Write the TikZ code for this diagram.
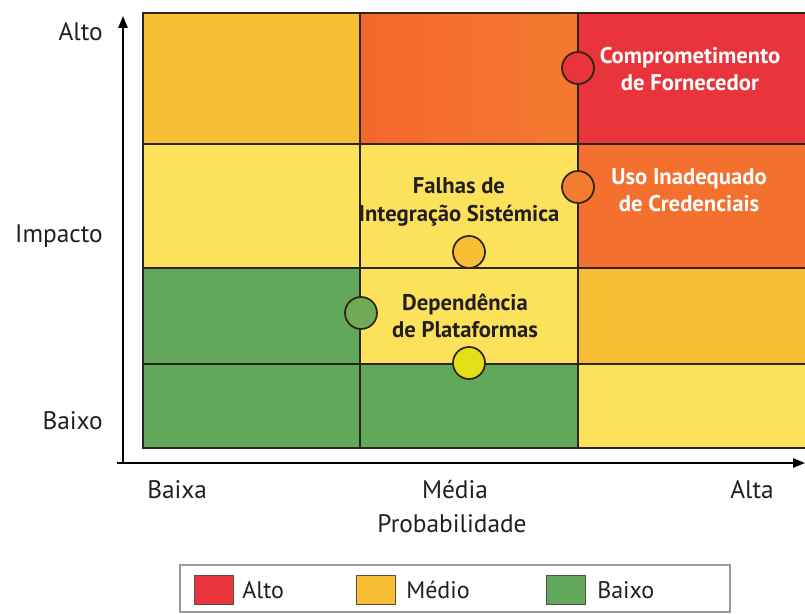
\documentclass[tikz,border=0pt]{standalone}
\usepackage{fontspec}
\setmainfont{PT Sans}
\usetikzlibrary{arrows.meta}

\definecolor{cRed}{HTML}{E8343A}
\definecolor{cOrange}{HTML}{F3702F}
\definecolor{cAmber}{HTML}{F7BE35}
\definecolor{cYellow}{HTML}{FBE25A}
\definecolor{cGreen}{HTML}{62A85A}
\definecolor{cLine}{HTML}{2E2418}
\definecolor{cText}{HTML}{231F20}

\tikzset{
  cell/.style={draw=cLine, line width=1.1pt},
  axis/.style={draw=black, line width=1.3pt, -{Triangle[length=9pt,width=7pt]}},
  axlabel/.style={font=\fontsize{19}{22}\selectfont, text=cText, inner sep=0pt},
  risk/.style={circle, draw=cLine, line width=1.3pt, minimum size=24pt, inner sep=0pt},
  tag/.style={font=\bfseries\fontsize{17}{20.5}\selectfont, align=center, inner sep=0pt},
  swatch/.style={draw=cLine!80, line width=0.6pt, minimum width=29pt, minimum height=22pt, inner sep=0pt},
  legtext/.style={font=\fontsize{18}{21}\selectfont, text=cText, anchor=west, inner sep=0pt}
}

\begin{document}
\begin{tikzpicture}[x=0.75pt, y=-0.75pt]
\useasboundingbox (0,0) rectangle (805,613);
\begin{scope}
\clip (0,0) rectangle (805,613);

% grid cells: columns 143|360|578|812, rows 13|144|268|364|448
\fill[cAmber]  (143,13) rectangle (360,144);
\shade[left color=cOrange!92!red, right color=cOrange!88!cAmber] (360,13) rectangle (578,144);
\fill[cRed]    (578,13) rectangle (812,144);

\fill[cYellow] (143,144) rectangle (360,268);
\fill[cYellow] (360,144) rectangle (578,268);
\fill[cOrange] (578,144) rectangle (812,268);

\fill[cGreen]  (143,268) rectangle (360,364);
\fill[cYellow] (360,268) rectangle (578,364);
\fill[cAmber]  (578,268) rectangle (812,364);

\fill[cGreen]  (143,364) rectangle (360,448);
\fill[cGreen]  (360,364) rectangle (578,448);
\fill[cYellow] (578,364) rectangle (812,448);

% grid lines
\draw[cell] (143,13) rectangle (812,448);
\draw[cell] (360,13) -- (360,448);
\draw[cell] (578,13) -- (578,448);
\draw[cell] (143,144) -- (812,144);
\draw[cell] (143,268) -- (812,268);
\draw[cell] (143,364) -- (812,364);

% axes
\coordinate (origin) at (123,463);
\coordinate (ytop) at (123,16);
\coordinate (xstart) at (117,463);
\coordinate (xend) at (805,463);
\draw[axis] (origin) -- (ytop);
\draw[axis] (xstart) -- (xend);

% axis labels
\node[axlabel, anchor=east] (yhigh) at (103,32) {Alto};
\node[axlabel, anchor=east] (ytitle) at (103,236) {Impacto};
\node[axlabel, anchor=east] (ylow) at (103,421) {Baixo};
\node[axlabel, anchor=west] (xlow) at (147,490) {Baixa};
\node[axlabel] (xmid) at (455,490) {Média};
\node[axlabel] (xhigh) at (752,490) {Alta};
\node[axlabel] (xtitle) at (452,524) {Probabilidade};

% risks
\node[risk, fill=cRed] (r1) at (578,68) {};
\node[tag, text=white] (t1) at (690,69) {Comprometimento\\de Fornecedor};

\node[risk, fill=cOrange!85!cAmber] (r2) at (578,187) {};
\node[tag, text=white] (t2) at (689,190) {Uso Inadequado\\de Credenciais};

\node[risk, fill=cAmber] (r3) at (469,252) {};
\node[tag, text=cText] (t3) at (459,202) {Falhas de\\Integração Sistémica};

\node[risk, fill=cGreen!90!cAmber] (r4) at (361,313) {};
\node[tag, text=cText] (t4) at (465,316) {Dependência\\de Plataformas};

\node[risk, fill=yellow!75!cAmber!90!green] (r5) at (469,363) {};

% legend
\draw[draw=black!40, fill=white, line width=0.8pt] (180,565) rectangle (730,612);
\node[swatch, fill=cRed] (sHigh) at (214,590) {};
\node[legtext] (lHigh) at (242,590) {Alto};
\node[swatch, fill=cAmber] (sMid) at (376,590) {};
\node[legtext] (lMid) at (406,590) {Médio};
\node[swatch, fill=cGreen] (sLow) at (566,590) {};
\node[legtext] (lLow) at (597,590) {Baixo};
\end{scope}
\end{tikzpicture}
\end{document}
